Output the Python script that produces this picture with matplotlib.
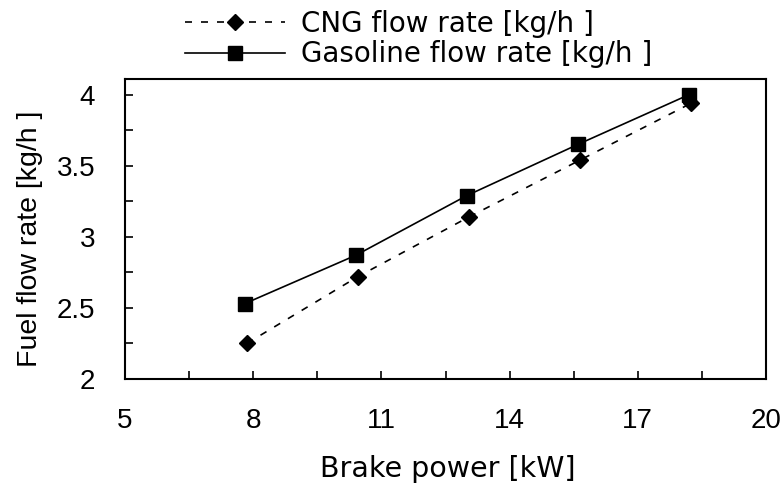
import matplotlib
matplotlib.use("Agg")
import matplotlib.pyplot as plt
from matplotlib.ticker import FixedLocator

plt.rcParams['font.family'] = ['DejaVu Sans']

cng_power = [7.85, 10.45, 13.05, 15.65, 18.25]
cng_flow = [2.25, 2.72, 3.14, 3.54, 3.94]
gas_power = [7.8, 10.4, 13.0, 15.6, 18.2]
gas_flow = [2.53, 2.87, 3.29, 3.65, 4.0]

xticks = [5, 8, 11, 14, 17, 20]
xminor = [6.5, 9.5, 12.5, 15.5, 18.5]
yticks = [2, 2.5, 3, 3.5, 4]
yminor = [2.25, 2.75, 3.25, 3.75]
ytick_labels = ['2', '2.5', '3', '3.5', '4']

fig = plt.figure(figsize=(7.8, 4.84), dpi=100)
ax = fig.add_axes([125/780, 1-379/484, 641/780, 300/484])

ax.plot(cng_power, cng_flow, linestyle=(0, (4.2, 5.4)), color='black', lw=1.2,
        marker='D', markersize=8.6, markerfacecolor='black', markeredgecolor='black',
        label='CNG flow rate [kg/h ]')
ax.plot(gas_power, gas_flow, linestyle='-', color='black', lw=1.2,
        marker='s', markersize=10.5, markerfacecolor='black', markeredgecolor='black',
        label='Gasoline flow rate [kg/h ]')

ax.set_xlim(5, 20)
ax.set_ylim(2, 4.11)
ax.set_xticks(xticks)
ax.set_xticklabels([str(t) for t in xticks])
ax.set_yticks(yticks)
ax.set_yticklabels(ytick_labels)
ax.xaxis.set_minor_locator(FixedLocator(xminor))
ax.yaxis.set_minor_locator(FixedLocator(yminor))
ax.tick_params(which='both', direction='in', width=1.2, colors='black', length=6)
ax.tick_params(axis='x', pad=21)
ax.tick_params(axis='y', pad=21.5)
for lbl in ax.get_xticklabels() + ax.get_yticklabels():
    lbl.set_fontfamily('Liberation Sans')
    lbl.set_fontsize(20)
for s in ax.spines.values():
    s.set_linewidth(1.5)

ax.set_xlabel('Brake power [kW]', fontsize=20.5, family='DejaVu Sans')
ax.xaxis.set_label_coords(0.504, (379 - 455) / 300)
ax.set_ylabel('Fuel flow rate [kg/h ]', fontsize=20.5, family='Liberation Sans')
ax.yaxis.set_label_coords((43 - 125) / 641, (379 - 238.5) / 300)

fs = 20
fpx = fs * 100 / 72
fig.legend(loc='upper left', bbox_to_anchor=(185/780, 1-10/484), frameon=False,
           prop={'family': 'DejaVu Sans', 'size': fs},
           handlelength=100/fpx, handletextpad=16/fpx, borderpad=0,
           borderaxespad=0, labelspacing=0.08, numpoints=1)

fig.savefig('out.png', dpi=100)
